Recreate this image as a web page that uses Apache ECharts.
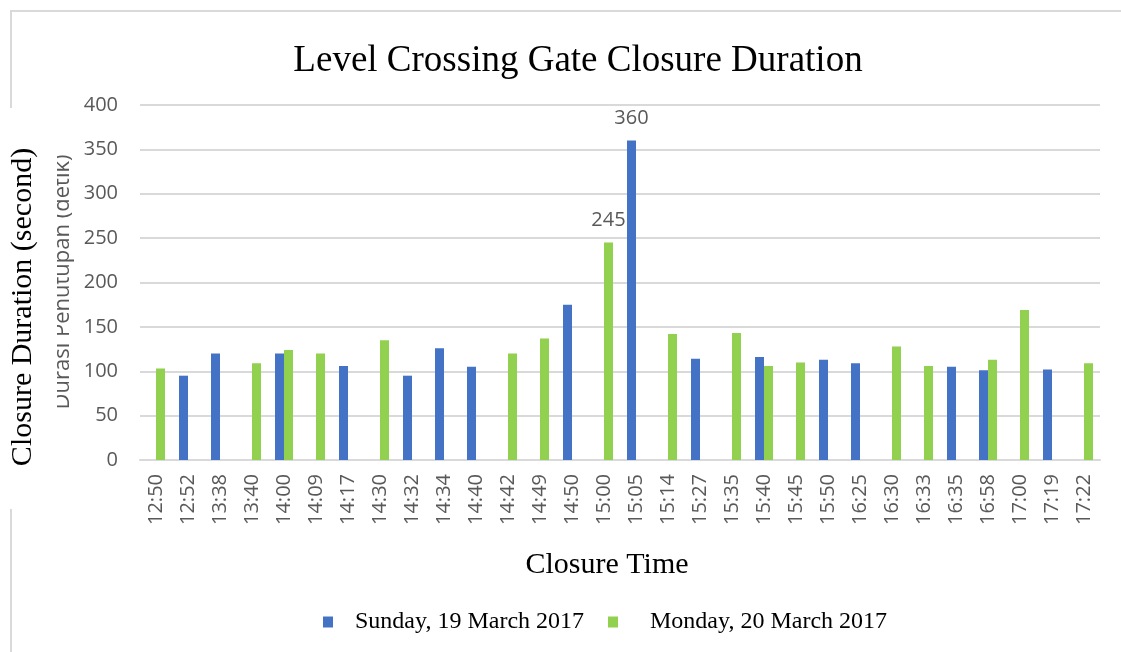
<!DOCTYPE html>
<html>
<head>
<meta charset="utf-8">
<script src="https://cdn.jsdelivr.net/npm/echarts@6/dist/echarts.min.js"></script>
<style>html,body{margin:0;padding:0;background:#fff;}#c{width:1121px;height:652px;}</style>
</head>
<body>
<div id="c"></div>
<script>
const categories = ['12:50','12:52','13:38','13:40','14:00','14:09','14:17','14:30','14:32','14:34','14:40','14:42','14:49','14:50','15:00','15:05','15:14','15:27','15:35','15:40','15:45','15:50','16:25','16:30','16:33','16:35','16:58','17:00','17:19','17:22'];
const sunday = [null,95,120,null,120,null,106,null,95,126,105,null,null,175,null,360,null,114,null,116,null,113,109,null,null,105,101,null,102,null];
const monday = [103,null,null,109,124,120,null,135,null,null,null,120,137,null,245,null,142,null,143,106,110,null,null,128,106,null,113,169,null,109];
const sundayLabelled = ['15:05'];
const mondayLabelled = ['15:00'];
const yTicks = [0, 50, 100, 150, 200, 250, 300, 350, 400];
const seriesNames = ['Sunday, 19 March 2017', 'Monday, 20 March 2017'];
const titleText = 'Level Crossing Gate Closure Duration';
const yName = 'Closure Duration (second)';
const ghostName = 'Durasi Penutupan (detik)';
const xName = 'Closure Time';

const labelStyle = {show: true, position: 'top', distance: 12, color: '#595959', fontFamily: 'Open Sans', fontSize: 20};
function build(values, labelled) {
  return values.map((v, i) => labelled.includes(categories[i]) ? {value: v, label: labelStyle} : v);
}

const chart = echarts.init(document.getElementById('c'), null, {renderer: 'canvas'});
const serif = 'Liberation Serif';
chart.setOption({
  backgroundColor: '#fff',
  animation: false,
  grid: {left: 140, right: 21, top: 105, bottom: 192, containLabel: false},
  xAxis: {
    type: 'category', data: categories,
    axisLine: {lineStyle: {color: '#d9d9d9', width: 2}},
    axisTick: {show: false},
    axisLabel: {rotate: 90, color: '#595959', fontFamily: 'Open Sans', fontSize: 20, margin: 14, interval: 0}
  },
  yAxis: {
    type: 'value', min: yTicks[0], max: yTicks[yTicks.length - 1], interval: yTicks[1] - yTicks[0],
    axisLine: {show: false}, axisTick: {show: false},
    splitLine: {lineStyle: {color: '#d9d9d9', width: 2}},
    axisLabel: {color: '#595959', fontFamily: 'Open Sans', fontSize: 20, margin: 22}
  },
  legend: [
    {data: [seriesNames[0]], left: 323, top: 610, padding: 0, icon: 'rect', itemWidth: 10, itemHeight: 11,
     textStyle: {fontFamily: serif, fontSize: 24, color: '#000', padding: [0, 0, 0, 17]}},
    {data: [seriesNames[1]], left: 608, top: 610, padding: 0, icon: 'rect', itemWidth: 10, itemHeight: 11,
     textStyle: {fontFamily: serif, fontSize: 24, color: '#000', padding: [0, 0, 0, 27]}}
  ],
  series: [
    {name: seriesNames[0], type: 'bar', data: build(sunday, sundayLabelled), barWidth: 9, barGap: '0%', itemStyle: {color: '#4472C4'}},
    {name: seriesNames[1], type: 'bar', data: build(monday, mondayLabelled), barWidth: 9, barGap: '0%', itemStyle: {color: '#92D050'}}
  ],
  graphic: [
    {type: 'line', shape: {x1: 10, y1: 11, x2: 1121, y2: 11}, style: {stroke: '#d9d9d9', lineWidth: 2}, silent: true},
    {type: 'line', shape: {x1: 11, y1: 10, x2: 11, y2: 108}, style: {stroke: '#d9d9d9', lineWidth: 2}, silent: true},
    {type: 'line', shape: {x1: 11, y1: 509, x2: 11, y2: 652}, style: {stroke: '#d9d9d9', lineWidth: 2}, silent: true},
    {type: 'text', x: 578, y: 61, style: {text: titleText, font: '37px "Liberation Serif"', fill: '#000', textAlign: 'center', textVerticalAlign: 'middle'}},
    {type: 'text', x: 63, y: 282, rotation: Math.PI / 2, z: 1, style: {text: ghostName, font: '22px "Open Sans"', fill: '#595959', textAlign: 'center', textVerticalAlign: 'middle'}},
    {type: 'rect', shape: {x: 38, y: 140, width: 19, height: 290}, z: 2, style: {fill: '#fff'}, silent: true},
    {type: 'text', x: 23, y: 307, rotation: Math.PI / 2, z: 3, style: {text: yName, font: '30px "Liberation Serif"', fill: '#000', textAlign: 'center', textVerticalAlign: 'middle'}},
    {type: 'text', x: 607, y: 565, style: {text: xName, font: '30px "Liberation Serif"', fill: '#000', textAlign: 'center', textVerticalAlign: 'middle'}}
  ]
});
</script>
</body>
</html>
